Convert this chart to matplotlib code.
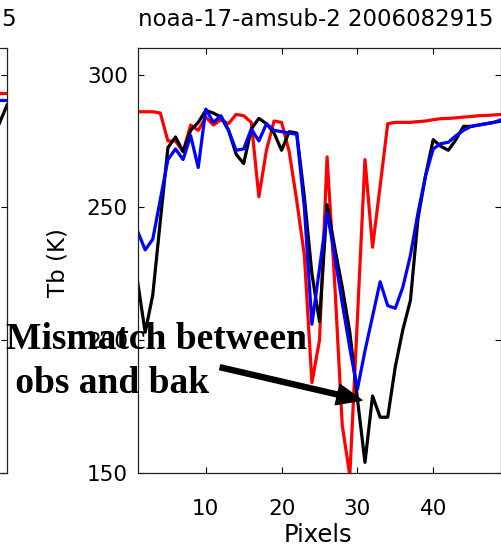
import numpy as np
import matplotlib
matplotlib.use("Agg")
import matplotlib.pyplot as plt

# scan position along the cut (pixel index)
pixels = list(range(1, 50))

# brightness temperature (K) for noaa-17 amsub channel 2
tb_black = [222, 203, 217, 245, 272.5, 276.5, 271, 279, 282, 286.5,
            285.5, 284, 279, 270, 266.5, 279.5, 283.5, 281.5, 278, 271.5,
            278.5, 278, 254, 225, 207, 251, 235, 220, 203, 178,
            154, 179, 171, 171, 190, 204, 215, 246, 262, 275.5,
            273, 271.5, 275.5, 280.5, 280.5, 281, 281.5, 282, 282.5]
tb_blue = [241, 234, 238, 253, 268, 272, 268, 277, 265, 287,
           282, 284.5, 279, 271.5, 272, 279.5, 275, 281.5, 279, 278.5,
           278, 277.5, 250, 206, 227, 248, 232, 214, 197, 181.5,
           196, 209, 222, 213, 212, 220, 232, 248, 262, 272,
           274, 274.5, 277, 279, 280.5, 281, 281.5, 282, 283]
tb_red = [286, 286, 286, 285.5, 275, 275, 271, 281, 279, 284,
          281, 283, 281.5, 285, 284.5, 282, 254, 271.5, 282.5, 282,
          271, 252.5, 232, 184, 200, 269, 222, 168, 149, 208,
          268, 235, 258, 281.5, 282, 282, 282, 282.3, 282.5, 283,
          283.4, 283.5, 283.7, 284, 284.2, 284.5, 284.6, 284.8, 285]

# neighbouring panel (only its right edge is visible)
left_pixels = [47, 48, 49]
left_black = [276, 281.7, 288.5]
left_blue = [290.5, 290.5, 290.5]
left_red = [293, 293, 293]

yticks = [150, 200, 250, 300]
xticks = [10, 20, 30, 40]

W, H = 501, 556
fig = plt.figure(figsize=(W / 100, H / 100), dpi=100)

ax_w = (501.4 - 137.6) / W
ax_b = 1 - 473 / H
ax_h = (473 - 48) / H


def style_axes(ax):
    ax.set_xlim(1, 49)
    ax.set_ylim(150, 310)
    ax.set_xticks(xticks)
    ax.set_yticks(yticks)
    ax.tick_params(direction="in", length=4, width=0.8, top=True, right=True,
                   labelsize=15.5, colors="black")
    ax.tick_params(axis="x", pad=19)
    ax.tick_params(axis="y", pad=7)
    for s in ax.spines.values():
        s.set_linewidth(0.9)
        s.set_color("#222222")


# left (cut off) panel, its labels fall outside the picture
axl = fig.add_axes([7 / W - ax_w, ax_b, ax_w, ax_h])
style_axes(axl)
axl.tick_params(labelleft=False, labelbottom=False)
axl.plot(left_pixels, left_red, color="red", lw=2.3)
axl.plot(left_pixels, left_black, color="black", lw=2.3)
axl.plot(left_pixels, left_blue, color="blue", lw=2.3)

# main panel
ax = fig.add_axes([137.6 / W, ax_b, ax_w, ax_h])
style_axes(ax)
ax.plot(pixels, tb_red, color="red", lw=2.3)
ax.plot(pixels, tb_black, color="black", lw=2.3)
ax.plot(pixels, tb_blue, color="blue", lw=2.3)

ax.set_xlabel("Pixels", fontsize=17.5)
ax.xaxis.set_label_coords(0.496, -0.1176)
ax.set_ylabel("Tb (K)", fontsize=16.5)
ax.yaxis.set_label_coords(-0.186, 0.494)

fig.text(315.8 / W, 1 - 26 / H, "noaa-17-amsub-2 2006082915", fontsize=16.5,
         ha="center", va="baseline")
fig.text(1 / W, 1 - 26 / H, "5", fontsize=16.5, ha="left", va="baseline")

# annotation
ax.annotate("", xy=(30.6, 177.4), xytext=(11.9, 189.8),
            arrowprops=dict(facecolor="black", edgecolor="black", width=3.6,
                            headwidth=15, headlength=18, shrink=0))
fig.text(6 / W, 1 - 322 / H, "Mismatch between\n obs and bak",
         fontsize=27, fontweight="bold", family="Liberation Serif",
         ha="left", va="top", linespacing=1.35)

fig.savefig("out.png", dpi=100)
